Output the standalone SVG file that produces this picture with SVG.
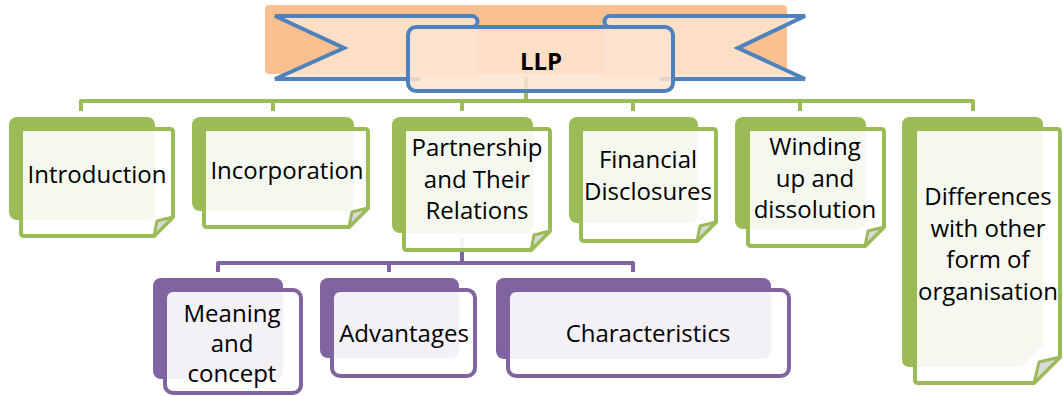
<svg xmlns="http://www.w3.org/2000/svg" width="1063" height="396" viewBox="0 0 1063 396">
<style>
text{font-family:"Open Sans","Noto Sans","Liberation Sans",sans-serif;font-size:24px;fill:#000;text-anchor:middle}
.gc{fill:none;stroke:#9BBB59;stroke-width:4;stroke-linejoin:round}
.pc{fill:none;stroke:#8064A2;stroke-width:4;stroke-linejoin:round}
.gb{fill:#9BBB59}
.pb{fill:#8064A2}
.gf{fill:#fff;fill-opacity:0.9;stroke:#9BBB59;stroke-width:4;stroke-linejoin:round}
.pf{fill:#fff;fill-opacity:0.9;stroke:#8064A2;stroke-width:4}
.flap{fill:#D9D9D9;stroke:#9BBB59;stroke-width:3;stroke-linejoin:round}
.bf{fill:#FDE4D0;fill-opacity:0.85}
.bs{fill:none;stroke:#4F81BD;stroke-width:4}
</style>
<rect x="0" y="0" width="1063" height="396" fill="#fff"/>
<g id="connectors">
<path class="gc" d="M526,77 V101"/>
<path class="gc" d="M81,111 V101 H973 V111"/>
<path class="gc" d="M273,101 V111 M462,101 V111 M633,101 V111 M800,101 V111"/>
<path class="pc" d="M462,238 V263"/>
<path class="pc" d="M218,272 V263 H633 V272"/>
<path class="pc" d="M389,263 V272"/>
</g>
<g id="llp">
<rect x="265" y="5" width="522" height="69" rx="4" fill="#FAC090"/>
<polygon class="bf" points="275,16 478,16 478,79 275,79 344,48"/>
<path class="bs" d="M420,79 H275 L344,48 L275,16 H472 A5.5,5.5 0 0 1 472,27 H420"/>
<polygon class="bf" points="805,16 604,16 604,79 805,79 738,48"/>
<path class="bs" d="M660,79 H805 L738,48 L805,16 H610 A5.5,5.5 0 0 0 610,27 H660"/>
<rect x="408" y="27" width="265" height="64" rx="8" fill="#FDE4D0" fill-opacity="0.85" stroke="#4F81BD" stroke-width="4"/>
<text x="541" y="70" font-weight="bold" font-size="26">LLP</text>
</g>
<g id="introduction">
<rect class="gb" x="9" y="117" width="146" height="103" rx="8"/>
<path class="gf" d="M24,129 H170 Q173,129 173,132 V217 L154,236 H24 Q21,236 21,233 V132 Q21,129 24,129 Z"/>
<path class="flap" d="M173,217 L157,221 L154,236 Z"/>
<text x="97" y="183">Introduction</text>
</g>
<g id="incorporation">
<rect class="gb" x="192" y="117" width="162" height="94" rx="8"/>
<path class="gf" d="M207,129 H365 Q368,129 368,132 V208 L349,227 H207 Q204,227 204,224 V132 Q204,129 207,129 Z"/>
<path class="flap" d="M368,208 L352,212 L349,227 Z"/>
<text x="287" y="179">Incorporation</text>
</g>
<g id="partnership">
<rect class="gb" x="392" y="117" width="141" height="116" rx="8"/>
<path class="gf" d="M407,129 H547 Q550,129 550,132 V231 L531,250 H407 Q404,250 404,247 V132 Q404,129 407,129 Z"/>
<path class="flap" d="M550,231 L534,235 L531,250 Z"/>
<text x="477" y="156">Partnership</text>
<text x="477" y="188">and Their</text>
<text x="477" y="219">Relations</text>
</g>
<g id="financial">
<rect class="gb" x="569" y="117" width="129" height="106" rx="8"/>
<path class="gf" d="M584,129 H713 Q716,129 716,132 V222 L697,241 H584 Q581,241 581,238 V132 Q581,129 584,129 Z"/>
<path class="flap" d="M716,222 L700,226 L697,241 Z"/>
<text x="648" y="168">Financial</text>
<text x="648" y="200">Disclosures</text>
</g>
<g id="winding">
<rect class="gb" x="735" y="117" width="131" height="112" rx="8"/>
<path class="gf" d="M751,129 H881 Q884,129 884,132 V227 L865,246 H751 Q748,246 748,243 V132 Q748,129 751,129 Z"/>
<path class="flap" d="M884,227 L868,231 L865,246 Z"/>
<text x="815" y="155">Winding</text>
<text x="815" y="187">up and</text>
<text x="815" y="218">dissolution</text>
</g>
<g id="differences">
<path class="gb" d="M910,117 H1035 Q1043,117 1043,125 V345 L1021,367 H910 Q902,367 902,359 V125 Q902,117 910,117 Z"/>
<path class="gf" d="M918,129 H1057 Q1060,129 1060,132 V357 L1034,383 H918 Q915,383 915,380 V132 Q915,129 918,129 Z"/>
<path class="flap" d="M1060,357 L1039,362 L1034,383 Z"/>
<text x="988" y="205">Differences</text>
<text x="988" y="237">with other</text>
<text x="988" y="268">form of</text>
<text x="988" y="300">organisation</text>
</g>
<g id="meaning">
<rect class="pb" x="153" y="278" width="130" height="101" rx="8"/>
<rect class="pf" x="165" y="290" width="136" height="103" rx="8"/>
<text x="232" y="322">Meaning</text>
<text x="232" y="352">and</text>
<text x="232" y="382">concept</text>
</g>
<g id="advantages">
<rect class="pb" x="320" y="278" width="139" height="80" rx="8"/>
<rect class="pf" x="332" y="290" width="143" height="86" rx="8"/>
<text x="404" y="342">Advantages</text>
</g>
<g id="characteristics">
<rect class="pb" x="496" y="278" width="275" height="81" rx="8"/>
<rect class="pf" x="508" y="290" width="281" height="86" rx="8"/>
<text x="648" y="342">Characteristics</text>
</g>
</svg>
